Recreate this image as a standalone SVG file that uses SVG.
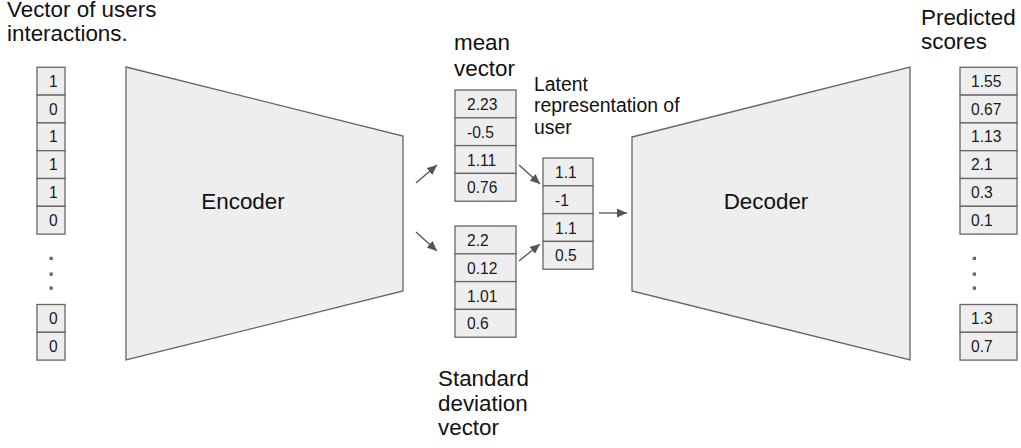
<svg xmlns="http://www.w3.org/2000/svg" width="1021" height="448" viewBox="0 0 1021 448">
<style>
  .cell { fill: #eeeeee; stroke: #666666; stroke-width: 1.3; }
  .trap { fill: #eeeeee; stroke: #666666; stroke-width: 1.3; }
  .num { font-family: "Liberation Sans", Arial, sans-serif; font-size: 15.6px; fill: #1a1a1a; }
  .lbl { font-family: "Liberation Sans", Arial, sans-serif; font-size: 22.4px; fill: #111111; }
  .sml { font-family: "Liberation Sans", Arial, sans-serif; font-size: 19.4px; fill: #111111; }
  .dot { fill: #666666; }
  .conn { stroke: #555555; stroke-width: 1.3; fill: none; marker-end: url(#arr); }
</style>
<defs>
  <marker id="arr" markerUnits="userSpaceOnUse" markerWidth="11" markerHeight="9" refX="10" refY="4.5" orient="auto">
    <path d="M0,0 L10,4.5 L0,9 z" fill="#555555"/>
  </marker>
</defs>
<rect width="1021" height="448" fill="#ffffff"/>

<g id="input-label">
  <text class="lbl" x="7" y="17">Vector of users</text>
  <text class="lbl" x="7" y="41">interactions.</text>
</g>

<g id="input-vector">
  <rect class="cell" x="37" y="67.3" width="28" height="27.8"/>
  <rect class="cell" x="37" y="95.1" width="28" height="27.8"/>
  <rect class="cell" x="37" y="122.9" width="28" height="27.8"/>
  <rect class="cell" x="37" y="150.7" width="28" height="27.8"/>
  <rect class="cell" x="37" y="178.5" width="28" height="27.8"/>
  <rect class="cell" x="37" y="206.3" width="28" height="27.8"/>
  <rect class="cell" x="37" y="304.5" width="28" height="27.8"/>
  <rect class="cell" x="37" y="332.3" width="28" height="27.8"/>
  <text class="num" x="49" y="86.8">1</text>
  <text class="num" x="49" y="114.6">0</text>
  <text class="num" x="49" y="142.4">1</text>
  <text class="num" x="49" y="170.2">1</text>
  <text class="num" x="49" y="198">1</text>
  <text class="num" x="49" y="225.8">0</text>
  <text class="num" x="49" y="324">0</text>
  <text class="num" x="49" y="351.8">0</text>
  <rect class="dot" x="49.5" y="256.8" width="3.3" height="3.3"/>
  <rect class="dot" x="49.5" y="272.5" width="3.3" height="3.3"/>
  <rect class="dot" x="49.5" y="286.5" width="3.3" height="3.3"/>
</g>

<g id="encoder">
  <polygon class="trap" points="126,67 403,136 403,291 126,360"/>
  <text class="lbl" x="243" y="209" text-anchor="middle">Encoder</text>
</g>

<g id="mean-vector">
  <text class="lbl" x="454" y="50">mean</text>
  <text class="lbl" x="454" y="75.5">vector</text>
  <rect class="cell" x="455" y="90" width="61" height="27.8"/>
  <rect class="cell" x="455" y="117.8" width="61" height="27.8"/>
  <rect class="cell" x="455" y="145.6" width="61" height="27.8"/>
  <rect class="cell" x="455" y="173.4" width="61" height="27.8"/>
  <text class="num" x="467" y="110">2.23</text>
  <text class="num" x="467" y="137.8">-0.5</text>
  <text class="num" x="467" y="165.6">1.11</text>
  <text class="num" x="467" y="193.4">0.76</text>
</g>

<g id="std-vector">
  <rect class="cell" x="455" y="226" width="61" height="27.8"/>
  <rect class="cell" x="455" y="253.8" width="61" height="27.8"/>
  <rect class="cell" x="455" y="281.6" width="61" height="27.8"/>
  <rect class="cell" x="455" y="309.4" width="61" height="27.8"/>
  <text class="num" x="467" y="246">2.2</text>
  <text class="num" x="467" y="273.8">0.12</text>
  <text class="num" x="467" y="301.6">1.01</text>
  <text class="num" x="467" y="329.4">0.6</text>
  <text class="lbl" x="438" y="386">Standard</text>
  <text class="lbl" x="438" y="410.5">deviation</text>
  <text class="lbl" x="438" y="435">vector</text>
</g>

<g id="latent-vector">
  <text class="sml" x="534" y="90.5">Latent</text>
  <text class="sml" x="534" y="112">representation of</text>
  <text class="sml" x="534" y="133.5">user</text>
  <rect class="cell" x="543" y="158" width="50" height="27.8"/>
  <rect class="cell" x="543" y="185.8" width="50" height="27.8"/>
  <rect class="cell" x="543" y="213.6" width="50" height="27.8"/>
  <rect class="cell" x="543" y="241.4" width="50" height="27.8"/>
  <text class="num" x="555" y="178">1.1</text>
  <text class="num" x="555" y="205.8">-1</text>
  <text class="num" x="555" y="233.6">1.1</text>
  <text class="num" x="555" y="261.4">0.5</text>
</g>

<g id="decoder">
  <polygon class="trap" points="632,137 910,67 910,360 632,291"/>
  <text class="lbl" x="766" y="209" text-anchor="middle">Decoder</text>
</g>

<g id="output-vector">
  <text class="lbl" x="921" y="24.5">Predicted</text>
  <text class="lbl" x="921" y="49">scores</text>
  <rect class="cell" x="960" y="67.3" width="57" height="27.8"/>
  <rect class="cell" x="960" y="95.1" width="57" height="27.8"/>
  <rect class="cell" x="960" y="122.9" width="57" height="27.8"/>
  <rect class="cell" x="960" y="150.7" width="57" height="27.8"/>
  <rect class="cell" x="960" y="178.5" width="57" height="27.8"/>
  <rect class="cell" x="960" y="206.3" width="57" height="27.8"/>
  <rect class="cell" x="960" y="304.5" width="57" height="27.8"/>
  <rect class="cell" x="960" y="332.3" width="57" height="27.8"/>
  <text class="num" x="971" y="86.8">1.55</text>
  <text class="num" x="971" y="114.6">0.67</text>
  <text class="num" x="971" y="142.4">1.13</text>
  <text class="num" x="971" y="170.2">2.1</text>
  <text class="num" x="971" y="198">0.3</text>
  <text class="num" x="971" y="225.8">0.1</text>
  <text class="num" x="971" y="324">1.3</text>
  <text class="num" x="971" y="351.8">0.7</text>
  <rect class="dot" x="972.7" y="256.8" width="3.3" height="3.3"/>
  <rect class="dot" x="972.7" y="272.5" width="3.3" height="3.3"/>
  <rect class="dot" x="972.7" y="286.5" width="3.3" height="3.3"/>
</g>

<g id="connectors">
  <line class="conn" x1="416" y1="183" x2="437" y2="165"/>
  <line class="conn" x1="416" y1="232" x2="437" y2="251"/>
  <line class="conn" x1="519" y1="165" x2="540" y2="184"/>
  <line class="conn" x1="519" y1="261" x2="540" y2="244"/>
  <line class="conn" x1="599" y1="213" x2="627" y2="213"/>
</g>
</svg>
